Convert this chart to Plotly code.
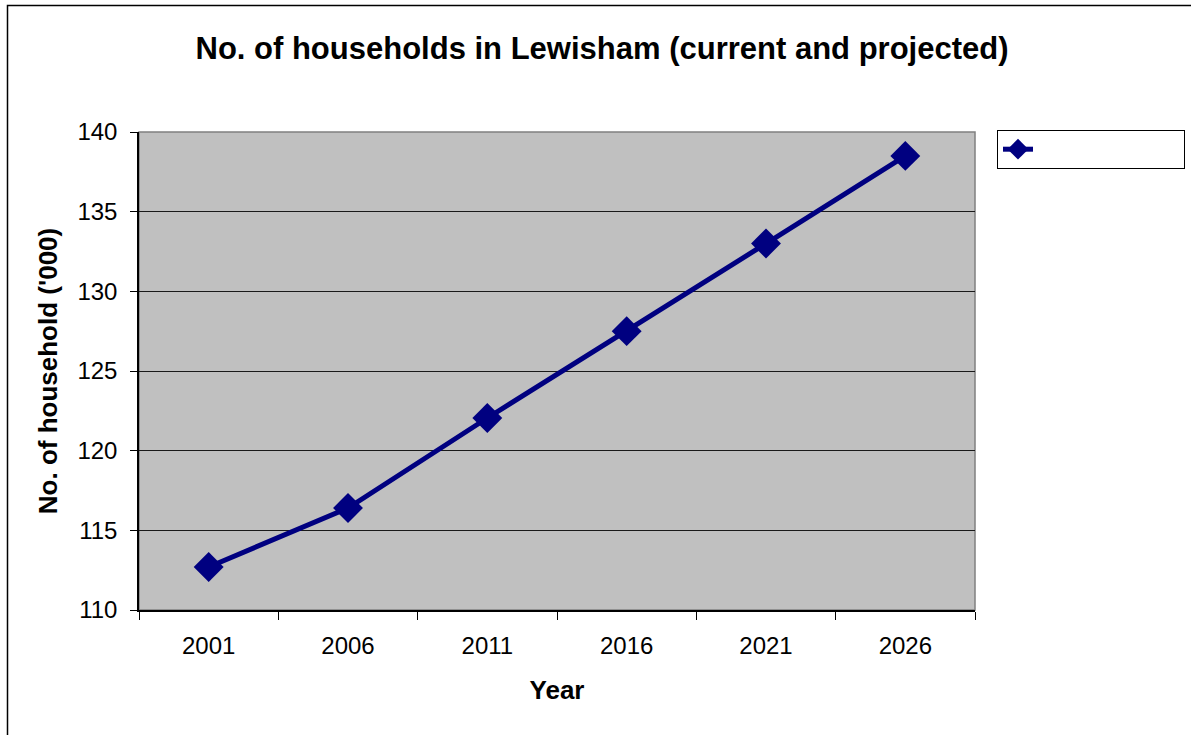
import plotly.graph_objects as go

# Household counts for Lewisham, thousands (current and projected)
years = ["2001", "2006", "2011", "2016", "2021", "2026"]
households = [112.7, 116.4, 122.05, 127.5, 133.0, 138.5]
y_ticks = [110, 115, 120, 125, 130, 135, 140]

W, H = 1191, 735
L, R, T, B = 139, 216, 132, 125
pw, ph = W - L - R, H - T - B

navy = "#000080"
font = "Liberation Sans, Arial, sans-serif"

fig = go.Figure()
fig.add_trace(go.Scatter(
    x=years, y=households, mode="lines+markers",
    name="\u00a0" * 28,
    line=dict(color=navy, width=5),
    marker=dict(symbol="diamond", size=23, color=navy),
))

fig.update_layout(
    width=W, height=H,
    margin=dict(l=L, r=R, t=T, b=B),
    paper_bgcolor="white",
    plot_bgcolor="#C0C0C0",
    font=dict(family=font, size=24, color="black"),
    title=dict(
        text="<b>No. of households in Lewisham (current and projected)</b>",
        x=602 / W, xanchor="center", y=1 - 48 / H, yanchor="middle",
        font=dict(size=31, family=font),
    ),
    showlegend=True,
    legend=dict(
        xref="container", yref="container",
        x=997 / W, xanchor="left", y=1 - 130 / H, yanchor="top",
        bordercolor="black", borderwidth=1, bgcolor="white",
        font=dict(size=18), itemwidth=30,
    ),
    xaxis=dict(
        type="category", tickson="boundaries", range=[-0.5, len(years) - 0.5],
        ticks="outside", ticklen=8, tickcolor="black",
        ticklabelstandoff=13,
        showline=True, linecolor="black", linewidth=1.5,
        showgrid=False, zeroline=False,
        tickfont=dict(size=24),
        title=dict(text="<b>Year</b>", font=dict(size=26), standoff=23),
    ),
    yaxis=dict(
        range=[110, 140], tickvals=y_ticks,
        ticks="outside", ticklen=7, tickcolor="black",
        ticklabelstandoff=8,
        showline=True, linecolor="black", linewidth=1.5,
        showgrid=True, gridcolor="#1a1a1a", gridwidth=1,
        zeroline=False,
        tickfont=dict(size=24),
        title=dict(text="<b>No. of household ('000)</b>", font=dict(size=26), standoff=12),
    ),
    shapes=[
        # gray frame on the top and right of the plotting area
        dict(type="rect", xref="paper", yref="paper", x0=0, x1=1, y0=0, y1=1,
             line=dict(color="#808080", width=1.5), layer="below"),
        # outer chart border
        dict(type="rect", xref="paper", yref="paper",
             x0=(7.5 - L) / pw, x1=1.4, y0=-0.4, y1=1 + (T - 5.5) / ph,
             line=dict(color="black", width=1.5)),
    ],
)

fig.write_html("out.html")
